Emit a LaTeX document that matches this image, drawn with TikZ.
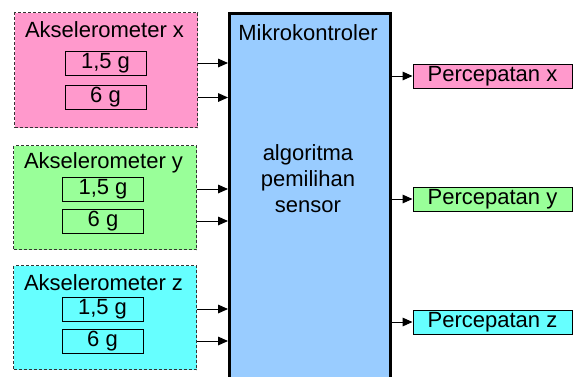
\documentclass[tikz,border=0pt]{standalone}
\usepackage{fontspec}
\setmainfont{Liberation Sans}
\usetikzlibrary{arrows.meta}
\definecolor{merahmuda}{RGB}{255,153,204}
\definecolor{hijau}{RGB}{153,255,153}
\definecolor{sian}{RGB}{102,255,255}
\definecolor{biru}{RGB}{153,204,255}
\begin{document}
\begin{tikzpicture}[x=0.75pt,y=-0.75pt,
    font=\fontsize{16.5pt}{19.5pt}\selectfont,
    sensor/.style={draw=black!80,line width=0.75pt,dash pattern=on 2.25pt off 1.5pt,
        minimum width=137.25pt,anchor=north west,inner sep=0pt},
    rentang/.style={draw,line width=0.75pt,minimum width=60.75pt,minimum height=18pt,inner sep=0pt},
    keluaran/.style={draw,line width=0.75pt,minimum width=119.25pt,minimum height=18pt,inner sep=0pt},
    panah/.style={-{Triangle[length=7.5pt,width=6.5pt]},line width=0.75pt}]
    \useasboundingbox (0,0) rectangle (573,376);
    % mikrokontroler
    \node[draw,fill=biru,line width=2.25pt,minimum width=120.75pt,minimum height=277.5pt,
        anchor=north west,inner sep=0pt] (mcu) at (228,12) {};
    \node (judul) at (308,33) {Mikrokontroler};
    \node[align=center] (algo) at (308,179) {algoritma\\pemilihan\\sensor};
    % akselerometer x
    \node[sensor,fill=merahmuda,minimum height=86.25pt] (sx) at (14,12) {};
    \node (sxt) at (104.5,30) {Akselerometer x};
    \node[rentang] (sxa) at (105.5,63) {1,5 g};
    \node[rentang] (sxb) at (105.5,97.5) {6 g};
    % akselerometer y
    \node[sensor,fill=hijau,minimum height=78pt] (sy) at (13,145) {};
    \node (syt) at (103.5,163) {Akselerometer y};
    \node[rentang] (sya) at (103,189) {1,5 g};
    \node[rentang] (syb) at (103,221) {6 g};
    % akselerometer z
    \node[sensor,fill=sian,minimum height=78pt] (sz) at (13,265) {};
    \node (szt) at (103.5,283) {Akselerometer z};
    \node[rentang] (sza) at (102.5,309) {1,5 g};
    \node[rentang] (szb) at (102.5,341) {6 g};
    % keluaran
    \node[keluaran,fill=merahmuda] (px) at (492.5,76) {Percepatan x};
    \node[keluaran,fill=hijau] (py) at (492.5,199) {Percepatan y};
    \node[keluaran,fill=sian] (pz) at (492.5,322) {Percepatan z};
    % panah masuk
    \draw[panah] (sx.east |- sxa) -- (mcu.west |- sxa);
    \draw[panah] (sx.east |- sxb) -- (mcu.west |- sxb);
    \draw[panah] (sy.east |- sya) -- (mcu.west |- sya);
    \draw[panah] (sy.east |- syb) -- (mcu.west |- syb);
    \draw[panah] (sz.east |- sza) -- (mcu.west |- sza);
    \draw[panah] (sz.east |- szb) -- (mcu.west |- szb);
    % panah keluar
    \draw[panah] (mcu.east |- px) -- (px.west);
    \draw[panah] (mcu.east |- py) -- (py.west);
    \draw[panah] (mcu.east |- pz) -- (pz.west);
\end{tikzpicture}
\end{document}
